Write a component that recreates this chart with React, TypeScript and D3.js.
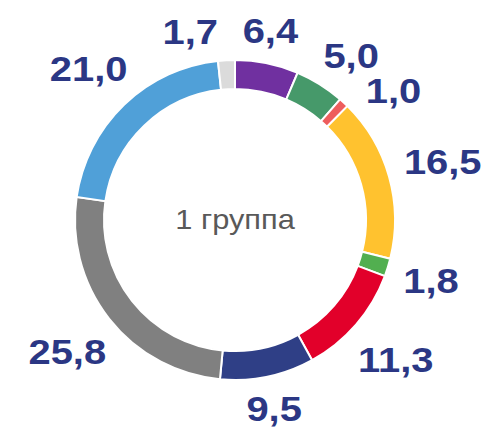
import React from "react";
import * as d3 from "d3";

const categories = ["A", "B", "C", "D", "E", "F", "G", "H", "I", "J"];
const values = [6.4, 5.0, 1.0, 16.5, 1.8, 11.3, 9.5, 25.8, 21.0, 1.7];
const labels = ["6,4", "5,0", "1,0", "16,5", "1,8", "11,3", "9,5", "25,8", "21,0", "1,7"];
const colors = ["#7030A0", "#46996A", "#EE5D5D", "#FFC22F", "#52AF50", "#E2002A", "#2F3F86", "#808080", "#50A0D8", "#DBDBDB"];
const centerTitle = "1 группа";

const W = 498, H = 434;
const cx = 235, cy = 220;
const rOuter = 160, rInner = 131;
const fontSize = 35;
const sx = 1.14;
const textH = 25;

function textWidth(s: string) {
  let w = 0;
  for (const ch of s) w += ch === "," ? 0.278 : 0.556;
  return w * fontSize * sx;
}

function labelCenter(a: number, w: number) {
  const s = Math.sin(a), c = Math.cos(a);
  const ext = (w / 2) * Math.abs(s) + (textH / 2) * Math.abs(c);
  const r = rOuter + 15 + ext;
  return [r * s, -r * c];
}

export default function App() {
  const pie = d3.pie<number>().sort(null).value((d) => d);
  const arcs = pie(values);
  const arc = d3.arc<d3.PieArcDatum<number>>().innerRadius(rInner).outerRadius(rOuter);

  const widths = labels.map(textWidth);
  const angles = arcs.map((d) => (d.startAngle + d.endAngle) / 2);
  // simple collision relaxation
  for (let it = 0; it < 400; it++) {
    let moved = false;
    for (let i = 0; i < angles.length; i++) {
      const j = (i + 1) % angles.length;
      const [xi, yi] = labelCenter(angles[i], widths[i]);
      const [xj, yj] = labelCenter(angles[j], widths[j]);
      const ox = (widths[i] + widths[j]) / 2 + 24 - Math.abs(xi - xj);
      const oy = textH + 10 - Math.abs(yi - yj);
      if (ox > 0 && oy > 0) {
        angles[i] -= 0.004;
        angles[j] += 0.004;
        moved = true;
      }
    }
    if (!moved) break;
  }

  return (
    <svg width={W} height={H} style={{ display: "block", position: "absolute", left: 0, top: 0 }}>
      <rect width={W} height={H} fill="#fff" />
      <g transform={`translate(${cx},${cy})`}>
        {arcs.map((d, i) => (
          <path key={categories[i]} d={arc(d) || ""} fill={colors[i]} stroke="#fff" strokeWidth={2} />
        ))}
        <text
          transform={`translate(0,0) scale(${sx},1)`}
          textAnchor="middle"
          dominantBaseline="central"
          fontFamily="Liberation Sans, Arial, sans-serif"
          fontSize={27}
          fill="#595959"
        >
          {centerTitle}
        </text>
        {labels.map((t, i) => {
          const [x, y] = labelCenter(angles[i], widths[i]);
          return (
            <text
              key={t + i}
              transform={`translate(${x},${y}) scale(${sx},1)`}
              textAnchor="middle"
              dy={textH / 2}
              fontFamily="Liberation Sans, Arial, sans-serif"
              fontWeight="bold"
              fontSize={fontSize}
              fill="#2B3784"
            >
              {t}
            </text>
          );
        })}
      </g>
    </svg>
  );
}
